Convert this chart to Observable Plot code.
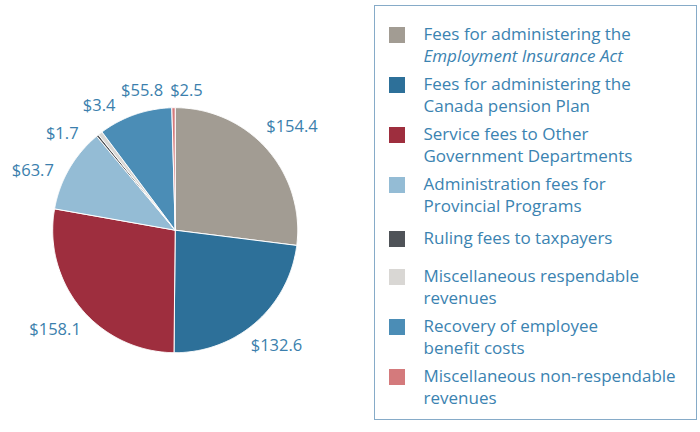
<!DOCTYPE html>
<html><head><meta charset="utf-8">
<script src="https://cdn.jsdelivr.net/npm/d3@7"></script>
<script src="https://cdn.jsdelivr.net/npm/@observablehq/plot@0.6"></script>
<style>
body{margin:0;background:#fff;}
#wrap{position:relative;width:700px;height:432px;font-family:"Open Sans",sans-serif;overflow:hidden;}
#chart{position:absolute;left:0;top:0;}
#legend{position:absolute;left:374px;top:5px;width:323px;height:415px;border:1.5px solid #86abc8;box-sizing:border-box;padding-top:16.5px;}
.item{position:relative;padding-left:48.5px;line-height:22px;font-size:17px;color:#3b83b1;margin-bottom:6px;white-space:nowrap;}
.item.one{padding-top:4px;padding-bottom:10px;}
.sw{position:absolute;left:14px;top:4px;width:16px;height:16px;}
.item.one .sw{top:8px;}
</style></head><body>
<div id="wrap"><div id="chart"></div><div id="legend"></div></div>
<script>
// ---- data ----
const categories = [
  "Fees for administering the Employment Insurance Act",
  "Fees for administering the Canada pension Plan",
  "Service fees to Other Government Departments",
  "Administration fees for Provincial Programs",
  "Ruling fees to taxpayers",
  "Miscellaneous respendable revenues",
  "Recovery of employee benefit costs",
  "Miscellaneous non-respendable revenues"
];
const values = [154.4, 132.6, 158.1, 63.7, 1.7, 3.4, 55.8, 2.5];
const valueLabels = ["$154.4", "$132.6", "$158.1", "$63.7", "$1.7", "$3.4", "$55.8", "$2.5"];
const colors = ["#a29c93", "#2d7099", "#9e2e3e", "#94bcd5", "#4f5358", "#d9d7d4", "#4b8db6", "#d47a7c"];
const legendLine1 = [
  "Fees for administering the",
  "Fees for administering the",
  "Service fees to Other",
  "Administration fees for",
  "Ruling fees to taxpayers",
  "Miscellaneous respendable",
  "Recovery of employee",
  "Miscellaneous non-respendable"
];
const legendLine2 = [
  "Employment Insurance Act",
  "Canada pension Plan",
  "Government Departments",
  "Provincial Programs",
  "",
  "revenues",
  "benefit costs",
  "revenues"
];
const italicLine2 = [true, false, false, false, false, false, false, false];

// ---- layout constants ----
const R = 122.5, cx = 174.7, cy = 229.7, W = 700, H = 432;
const labelFont = 16.5, labelGap = 10, labelHalfH = 6;

// ---- pie geometry (unit circle, angles clockwise from 12 o'clock) ----
const total = d3.sum(values);
let acc = 0;
const slices = values.map((v, i) => {
  const a0 = acc / total * 2 * Math.PI; acc += v;
  const a1 = acc / total * 2 * Math.PI;
  return {cat: categories[i], a0, a1, mid: (a0 + a1) / 2};
});
const pts = [];
slices.forEach(s => {
  pts.push({cat: s.cat, x: 0, y: 0});
  const n = Math.max(2, Math.ceil((s.a1 - s.a0) / (Math.PI / 360)));
  for (let j = 0; j <= n; j++) {
    const a = s.a0 + (s.a1 - s.a0) * j / n;
    pts.push({cat: s.cat, x: Math.sin(a), y: Math.cos(a)});
  }
  pts.push({cat: s.cat, x: 0, y: 0});
});

// label angles: spread small neighbouring slices apart
function spread(angles, minSep) {
  const pos = angles.slice();
  for (let it = 0; it < 500; it++) {
    let moved = false;
    for (let i = 0; i < pos.length - 1; i++) {
      const d = pos[i + 1] - pos[i];
      if (d < minSep - 1e-6) { const m = (minSep - d) / 2; pos[i] -= m; pos[i + 1] += m; moved = true; }
    }
    if (!moved) break;
  }
  return pos;
}
const labelAngles = spread(slices.map(s => s.mid * 180 / Math.PI), 18);
const ctx = document.createElement("canvas").getContext("2d");
ctx.font = labelFont + "px 'Open Sans'";
const labelData = slices.map((s, i) => {
  const a = labelAngles[i] * Math.PI / 180;
  const hw = ctx.measureText(valueLabels[i]).width / 2;
  const ext = Math.abs(Math.sin(a)) * hw + Math.abs(Math.cos(a)) * labelHalfH;
  const r = (R + labelGap + ext) / R;
  return {text: valueLabels[i], x: r * Math.sin(a), y: r * Math.cos(a)};
});

const plot = Plot.plot({
  width: W, height: H, margin: 0,
  style: {fontFamily: "'Open Sans', sans-serif", background: "transparent"},
  x: {domain: [-cx / R, (W - cx) / R], axis: null},
  y: {domain: [-(H - cy) / R, cy / R], axis: null},
  color: {domain: categories, range: colors},
  marks: [
    Plot.line(pts, {x: "x", y: "y", z: "cat", fill: "cat", stroke: "white", strokeWidth: 1, strokeLinejoin: "round"}),
    Plot.text(labelData, {x: "x", y: "y", text: "text", fill: "#3b7fad", fontSize: labelFont, textAnchor: "middle", lineAnchor: "middle"})
  ]
});
document.getElementById("chart").appendChild(plot);

// ---- legend ----
const leg = document.getElementById("legend");
categories.forEach((c, i) => {
  const div = document.createElement("div");
  div.className = "item" + (legendLine2[i] ? "" : " one");
  const sw = document.createElement("span");
  sw.className = "sw"; sw.style.background = colors[i];
  div.appendChild(sw);
  const l1 = document.createElement("div"); l1.textContent = legendLine1[i]; div.appendChild(l1);
  if (legendLine2[i]) {
    const l2 = document.createElement("div"); l2.textContent = legendLine2[i];
    if (italicLine2[i]) l2.style.fontStyle = "italic";
    div.appendChild(l2);
  }
  leg.appendChild(div);
});
</script>
</body></html>
